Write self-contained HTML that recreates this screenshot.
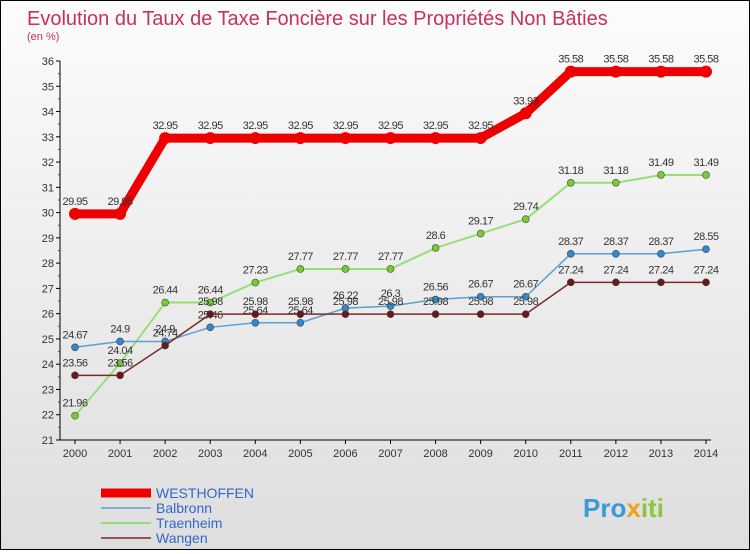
<!DOCTYPE html>
<html><head><meta charset="utf-8"><style>
body{margin:0;width:750px;height:550px;overflow:hidden;font-family:"Liberation Sans",sans-serif}
#wrap{position:relative;width:748px;height:548px;border:1px solid #000;background:linear-gradient(#fcfcfc,#dedede)}
</style></head><body>
<div id="wrap">
<svg id="chart" width="748" height="548">
<text x="26" y="24" font-size="20" fill="#c8305e">Evolution du Taux de Taxe Foncière sur les Propriétés Non Bâties</text>
<text x="26" y="39" font-size="11" fill="#c8305e">(en %)</text>
<g id="axes"></g><g id="series"></g><g id="legend"></g>
<text x="582" y="516" font-size="26" font-weight="bold" fill="#3a9ad9">Pro<tspan fill="#f0a020">x</tspan><tspan fill="#8cc63f">iti</tspan></text>
</svg></div>
<script>
const years=[2000,2001,2002,2003,2004,2005,2006,2007,2008,2009,2010,2011,2012,2013,2014];
const yTicks=[21,22,23,24,25,26,27,28,29,30,31,32,33,34,35,36];
const seriesNames=["WESTHOFFEN","Balbronn","Traenheim","Wangen"];
const westhoffen=[29.95,29.95,32.95,32.95,32.95,32.95,32.95,32.95,32.95,32.95,33.93,35.58,35.58,35.58,35.58];
const balbronn=[24.67,24.9,24.9,25.46,25.64,25.64,26.22,26.3,26.56,26.67,26.67,28.37,28.37,28.37,28.55];
const traenheim=[21.96,24.04,26.44,26.44,27.23,27.77,27.77,27.77,28.6,29.17,29.74,31.18,31.18,31.49,31.49];
const wangen=[23.56,23.56,24.74,25.98,25.98,25.98,25.98,25.98,25.98,25.98,25.98,27.24,27.24,27.24,27.24];
const NS="http://www.w3.org/2000/svg";
const xS=i=>74+i*(631/14);
const yS=v=>439-(v-21)*(379/15);
function mk(t,a,p){const e=document.createElementNS(NS,t);for(const k in a)e.setAttribute(k,a[k]);p.appendChild(e);return e;}
const ax=document.getElementById('axes');
let l=mk('line',{x1:59,y1:yS(36),x2:59,y2:yS(21),stroke:'#000'},ax);


l=mk('line',{x1:59,y1:yS(21),x2:710,y2:yS(21),stroke:'#000'},ax);


yTicks.forEach(v=>{
 mk('line',{x1:55,y1:yS(v),x2:59,y2:yS(v),stroke:'#000'},ax);
 if(v<36)mk('line',{x1:57,y1:yS(v+0.5),x2:59,y2:yS(v+0.5),stroke:'#e00'},ax);
 const t=mk('text',{x:53,y:yS(v)+4,'font-size':11,fill:'#333','text-anchor':'end'},ax);t.textContent=v;
 
 
});
years.forEach((y,i)=>{
 mk('line',{x1:xS(i),y1:yS(21),x2:xS(i),y2:yS(21)+4,stroke:'#000'},ax);
 const t=mk('text',{x:xS(i),y:yS(21)+17,'font-size':11,fill:'#333','text-anchor':'middle'},ax);t.textContent=y;
 
 
});
const sg=document.getElementById('series');
const defs=[[traenheim,'#99dd77','#77cc33',2,3.5],[balbronn,'#5aa0d0','#3388cc',1.5,3.5],[wangen,'#7a2a2a','#6a1818',1.5,3.5],[westhoffen,'#ee0000','#ee0000',9,6]];
const names=['traenheim','balbronn','wangen','westhoffen'];
defs.forEach((d,si)=>{
 const g=mk('g',{},sg);
 
 
 const pl=mk('polyline',{points:d[0].map((v,i)=>xS(i)+','+yS(v)).join(' '),fill:'none',stroke:d[1],'stroke-width':d[3],'stroke-linejoin':'round'},g);
 d[0].forEach((v,i)=>{
  const c=mk('circle',{cx:xS(i),cy:yS(v),r:d[4],fill:d[2],stroke:si==3?'none':'#444','stroke-width':0.6},g);
  
  
  const t=mk('text',{x:xS(i),y:yS(v)-9,'font-size':11,fill:'#333','text-anchor':'middle','letter-spacing':'-0.5'},g);t.textContent=v;
 });
});
const lg=document.getElementById('legend');
const lc=['#ee0000','#5aa0d0','#99dd77','#7a2a2a'],lw=[9,1.5,2,1.5];
seriesNames.forEach((n,i)=>{
 const y=492+i*15;
 const g=mk('g',{},lg);
 
 
 mk('line',{x1:100,y1:y,x2:150,y2:y,stroke:lc[i],'stroke-width':lw[i]},g);
 const t=mk('text',{x:155,y:y+5,'font-size':14,fill:'#3366cc'},g);t.textContent=n;
});
</script></body></html>
